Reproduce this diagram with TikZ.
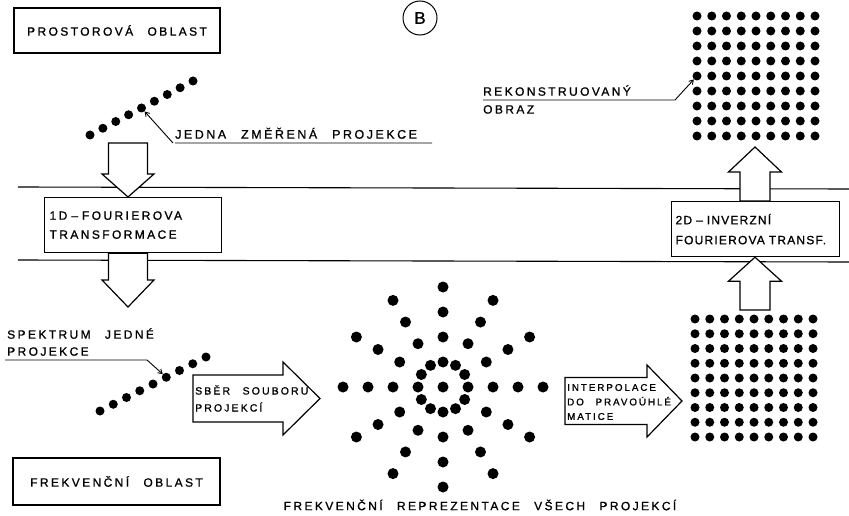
\documentclass[tikz,border=0pt]{standalone}
\usepackage{fontspec}
\usepackage{tikz}
\usetikzlibrary{arrows.meta, positioning, calc}
\newfontfamily\hand[LetterSpace=20, WordSpace=2.5, FakeBold=1]{Liberation Sans}
\newfontfamily\handtight[LetterSpace=10, WordSpace=1.3, FakeBold=1]{Liberation Sans}
\tikzset{
  >=Stealth,
  pointer/.style={-{Straight Barb[length=4pt, width=5pt]}, line width=0.9pt},
  blockline/.style={line width=1.2pt, fill=white, line join=miter},
  boundary/.style={line width=1.1pt}
}
% block arrow: tail, tip, half shaft, half head, head length
\newcommand{\blockarrow}[5]{%
  \coordinate (hb) at ($(#2)!#5!(#1)$);
  \draw[blockline] ($(#1)!#3!90:(#2)$) -- ($(hb)!#3!90:(#2)$)
    -- ($(hb)!#4!90:(#2)$) -- (#2) -- ($(hb)!#4!-90:(#2)$)
    -- ($(hb)!#3!-90:(#2)$) -- ($(#1)!#3!-90:(#2)$) -- cycle;
}

\begin{document}
\begin{tikzpicture}[x=1pt, y=-1pt,
    regionbox/.style={draw, line width=1.2pt, fill=white, inner sep=0pt,
      font=\hand\fontsize{12}{15}\selectfont},
    procbox/.style={draw, line width=1.2pt, fill=white, align=left, inner xsep=5pt,
      font=\hand\fontsize{12}{19}\selectfont},
    dot/.style={circle, fill, inner sep=0pt, minimum size=9pt},
    bigdot/.style={circle, fill, inner sep=0pt, minimum size=11pt},
    label/.style={font=\hand\fontsize{12}{17}\selectfont, inner xsep=0pt, inner ysep=4pt},
    arrowtext/.style={align=left, anchor=west, inner sep=0pt}]

    \useasboundingbox (0,0) rectangle (849,516);

    % Domain boundaries
    \draw[boundary] (18,187) -- (849,189);
    \draw[boundary] (18,260) -- (849,262);

    % Spatial domain
    \node[regionbox, minimum width=206pt, minimum height=45pt] (spatial) at (117,30.5) {PROSTOROVÁ OBLAST};
    \node[circle, draw, line width=1pt, minimum size=34pt, inner sep=0pt,
        font=\handtight\fontsize{17}{17}\selectfont] (plate) at (420,18) {B};

    % One measured projection
    \foreach \i in {0,...,8}
        \node[dot] (p\i) at ({90+\i*12.875},{135-\i*6.75}) {};
    \node[label, anchor=south west, font=\hand\fontsize{12.5}{17}\selectfont] (measured) at (175,143)
        {JEDNA ZMĚŘENÁ PROJEKCE};
    \coordinate (measuredend) at (432,143);
    \draw[pointer] (measuredend) -- (measured.south west) ++(-2,0) -- (p4);

    % 1D Fourier transform
    \node[procbox, text width=167pt, minimum height=55pt, anchor=north west] (fourier) at (44,197)
        {1D – FOURIEROVA\\TRANSFORMACE};
    \coordinate (a1) at (128,143);
    \coordinate (a2) at (128,307);
    \blockarrow{a1}{a1 |- fourier.north}{19.5pt}{26pt}{23pt}
    \blockarrow{a2 |- fourier.south}{a2}{19.5pt}{26pt}{27pt}

    % Spectrum of one projection
    \foreach \i in {0,...,8}
        \node[dot] (q\i) at ({100+\i*13.25},{411-\i*6.75}) {};
    \node[label, anchor=south west, align=left] (spectrum) at (7,360)
        {SPEKTRUM JEDNÉ\\PROJEKCE};
    \coordinate (spectrumend) at (147,360);
    \draw[pointer] (spectrum.south west) ++(-2,0) -- (spectrumend) -- (q5);

    % Collecting the projections
    \coordinate (b1) at (193,398.5);
    \coordinate (b2) at (320,398.5);
    \blockarrow{b1}{b2}{23.5pt}{36.5pt}{37pt}
    \node[arrowtext, font=\hand\fontsize{10.5}{17}\selectfont] (collect) at (195,398.5)
        {SBĚR SOUBORU\\PROJEKCÍ};

    % Frequency representation of all projections
    \coordinate (star) at (443,387);
    \node[bigdot] (s0) at (star) {};
    \foreach \r in {25,50,75,100}
        \foreach \a in {0,30,...,330}
            \node[bigdot] (s-\r-\a) at ($(star)+(\a:\r)$) {};
    \node[font=\hand\fontsize{12}{15}\selectfont] (caption) at (480,505)
        {FREKVENČNÍ REPREZENTACE VŠECH PROJEKCÍ};

    % Frequency domain
    \node[regionbox, minimum width=207pt, minimum height=47pt] (frequency) at (116.5,481.5) {FREKVENČNÍ OBLAST};

    % Interpolation to a rectangular matrix
    \coordinate (c1) at (565,401);
    \coordinate (c2) at (682,401);
    \blockarrow{c1}{c2}{23.5pt}{36pt}{35pt}
    \node[arrowtext, font=\hand\fontsize{9.8}{14.5}\selectfont] (interp) at (567,402)
        {INTERPOLACE\\DO PRAVOÚHLÉ\\MATICE};

    % Rectangular grid of the spectrum
    \foreach \i in {1,...,9}
        \foreach \j in {1,...,9}
            \node[dot] (bot-\i-\j) at ({695+(\i-1)*14.75},{319+(\j-1)*14.75}) {};

    % 2D inverse Fourier transform
    \node[procbox, font=\handtight\fontsize{12}{20}\selectfont, text width=160pt,
        inner xsep=4pt, minimum height=55pt, anchor=north west] (inverse) at (671,201)
        {2D – INVERZNÍ\\FOURIEROVA TRANSF.};
    \coordinate (d1) at (755,310);
    \coordinate (d2) at (755,147);
    \blockarrow{d1}{d1 |- inverse.south}{15pt}{26.5pt}{24pt}
    \blockarrow{d2 |- inverse.north}{d2}{15pt}{26.5pt}{25pt}

    % Reconstructed image
    \foreach \i in {1,...,9}
        \foreach \j in {1,...,9}
            \node[dot] (top-\i-\j) at ({697+(\i-1)*14.75},{16+(\j-1)*15}) {};
    \node[label, anchor=south west] (recon) at (483,100) {REKONSTRUOVANÝ};
    \node[label, anchor=north west, inner ysep=5pt] (image) at (recon.south west) {OBRAZ};
    \coordinate (reconend) at (675,100);
    \draw[pointer] (recon.south west) -- (reconend) -- (top-1-5);

\end{tikzpicture}
\end{document}
